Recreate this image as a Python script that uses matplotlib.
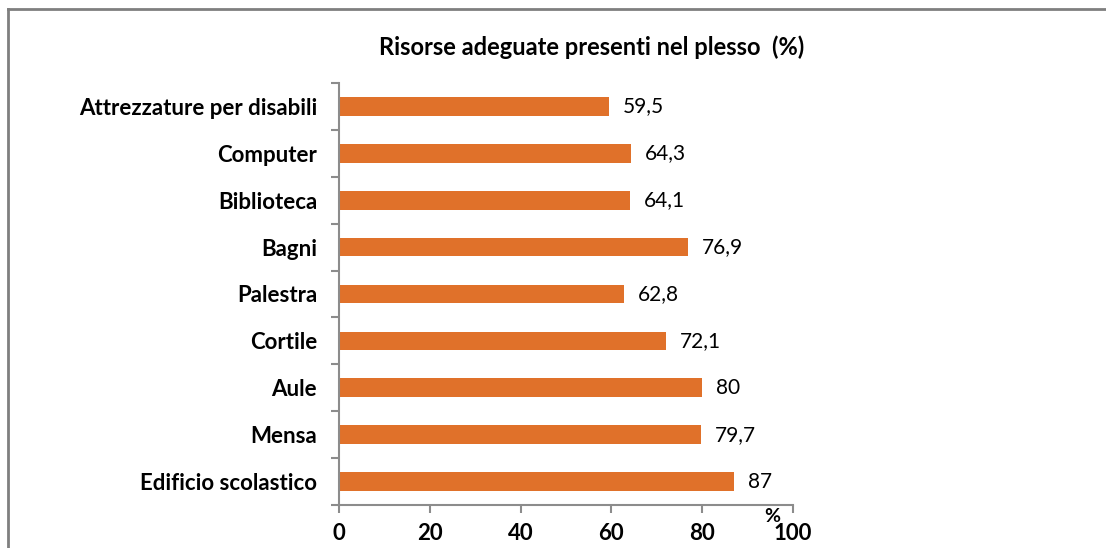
import matplotlib
matplotlib.use("Agg")
import matplotlib.pyplot as plt
from matplotlib.lines import Line2D

categories = ["Edificio scolastico", "Mensa", "Aule", "Cortile", "Palestra",
              "Bagni", "Biblioteca", "Computer", "Attrezzature per disabili"]
values = [87, 79.7, 80, 72.1, 62.8, 76.9, 64.1, 64.3, 59.5]
value_labels = ["87", "79,7", "80", "72,1", "62,8", "76,9", "64,1", "64,3", "59,5"]
xticks = [0, 20, 40, 60, 80, 100]
title = "Risorse adeguate presenti nel plesso  (%)"

plt.rcParams['font.family'] = ['Lato', 'DejaVu Sans']
W, H = 1106, 548
fig = plt.figure(figsize=(W / 100, H / 100), dpi=100)
ax = fig.add_axes([339.3 / W, 1 - 505 / H, (792.7 - 339.3) / W, (505 - 83) / H])

bar_color = "#E0712A"
gray = "#8C8C8C"
y = list(range(len(categories)))
ax.barh(y, values, height=0.4, color=bar_color, zorder=2)

for yi, v, lab in zip(y, values, value_labels):
    ax.annotate(lab, xy=(v, yi), xytext=(10, 0), textcoords="offset points",
                ha="left", va="center", fontsize=15, color="black")

ax.set_xlim(0, 100)
ax.set_ylim(-0.5, len(categories) - 0.5)
ax.set_xticks(xticks)
ax.set_xticklabels([str(t) for t in xticks], fontsize=16, fontweight="bold")
ax.set_yticks(y)
ax.set_yticklabels(categories, fontsize=16, fontweight="bold")
ax.set_yticks([i - 0.5 for i in range(len(categories) + 1)], minor=True)

ax.tick_params(axis="y", which="major", length=0, pad=16)
ax.tick_params(axis="y", which="minor", length=6, color=gray, width=1.5, direction="out")
ax.tick_params(axis="x", which="major", length=6, color=gray, width=1.5, direction="out", pad=7)

for s in ["top", "right"]:
    ax.spines[s].set_visible(False)
for s in ["left", "bottom"]:
    ax.spines[s].set_color(gray)
    ax.spines[s].set_linewidth(1.5)

ax.text(95.4, -0.027, "%", transform=ax.get_xaxis_transform(), ha="center",
        va="center", fontsize=14, fontweight="bold")

fig.text(592 / W, 1 - 47 / H, title, ha="center", va="center",
         fontsize=17, fontweight="bold")

# outer chart frame (left and top edges visible)
fig.add_artist(Line2D([8 / W, 8 / W], [0, 1 - 8.5 / H], transform=fig.transFigure,
                      color="#7F7F7F", linewidth=2))
fig.add_artist(Line2D([8 / W, 1], [1 - 8.5 / H, 1 - 8.5 / H], transform=fig.transFigure,
                      color="#7F7F7F", linewidth=2))

fig.savefig("out.png", dpi=100)
